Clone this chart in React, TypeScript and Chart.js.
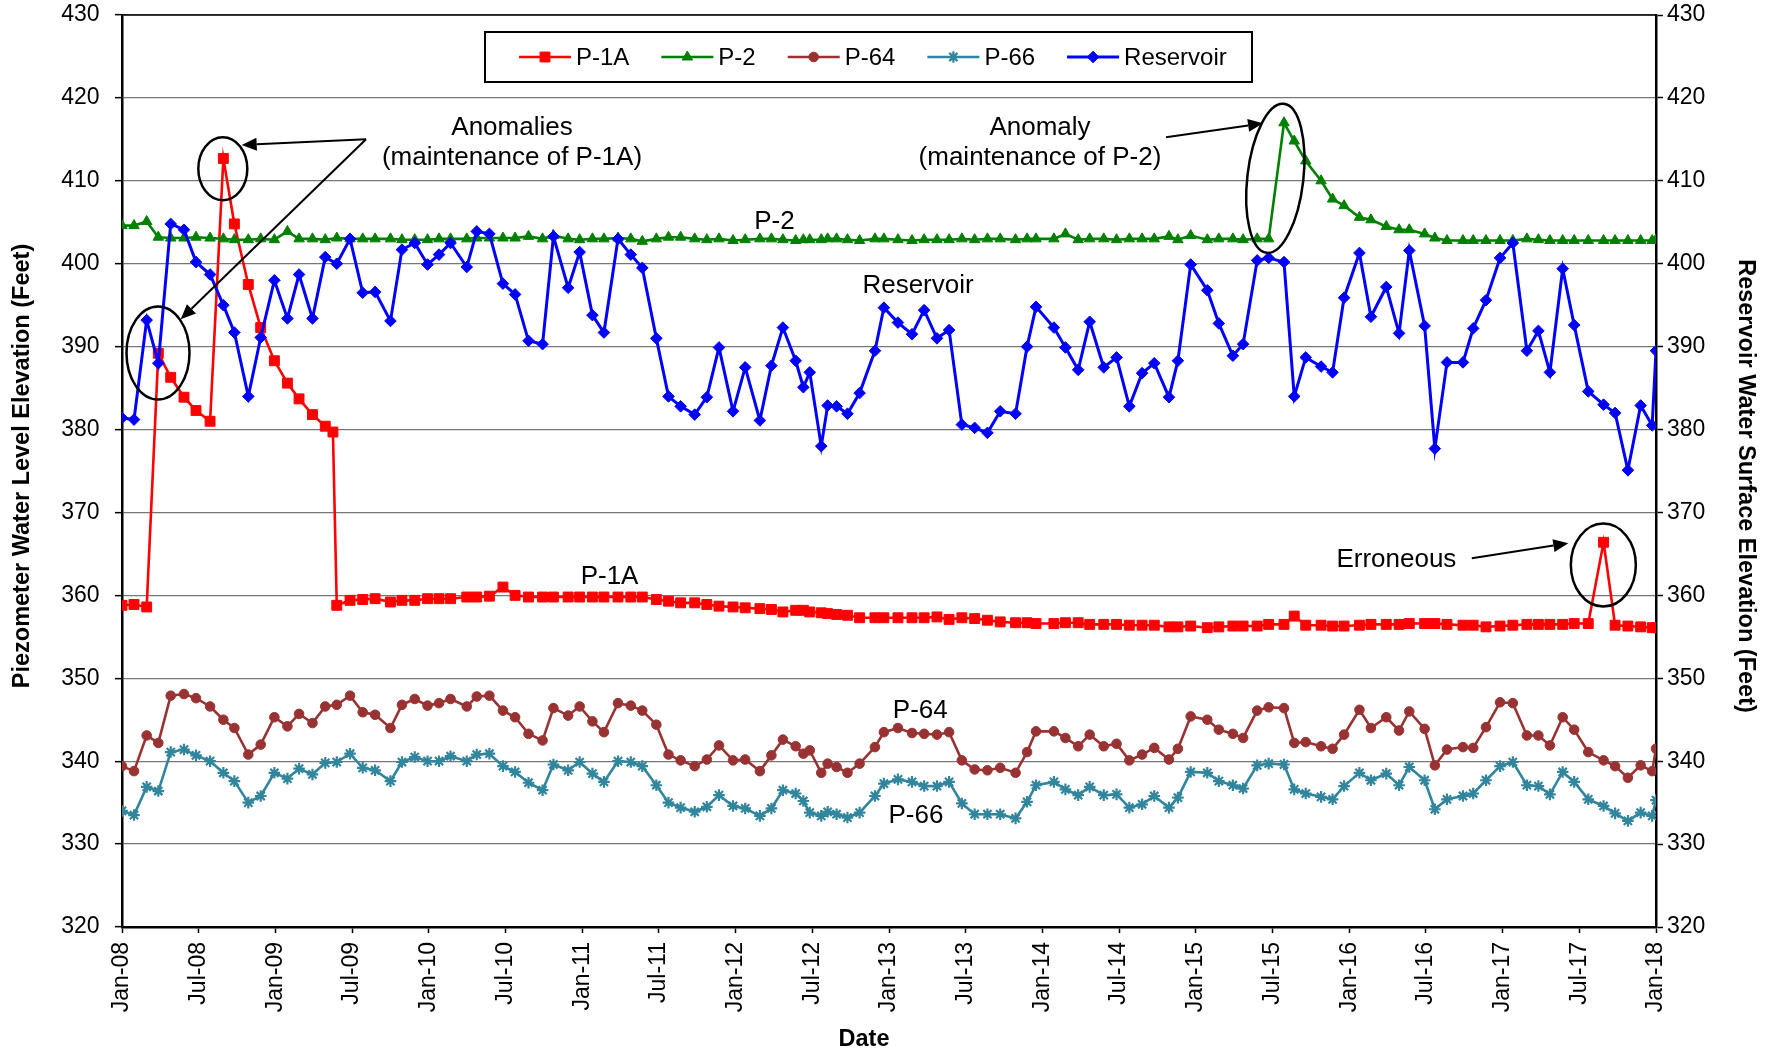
import React, { useEffect, useRef } from 'react';
import { Chart, registerables } from 'chart.js';
import { drawPoint } from 'chart.js/helpers';

Chart.register(...registerables);

// Reading dates, in months after January 2008
const months = [
  0, 0.94, 1.93, 2.84, 3.81, 4.85, 5.79, 6.89, 7.93, 8.79,
  9.88, 10.85, 11.92, 12.94, 13.85, 14.9, 15.9, 16.5, 16.8, 17.84,
  18.83, 19.8, 21.0, 21.9, 22.9, 23.9, 24.8, 25.7, 26.97, 27.75,
  28.74, 29.8, 30.75, 31.8, 32.9, 33.75, 34.9, 35.8, 36.8, 37.7,
  38.8, 39.8, 40.7, 41.8, 42.75, 43.7, 44.8, 45.75, 46.7, 47.8,
  48.75, 49.9, 50.8, 51.7, 52.7, 53.3, 53.8, 54.7, 55.2, 55.9,
  56.75, 57.7, 58.9, 59.6, 60.7, 61.8, 62.75, 63.75, 64.7, 65.7,
  66.7, 67.7, 68.7, 69.9, 70.8, 71.5, 72.9, 73.8, 74.8, 75.7,
  76.8, 77.8, 78.8, 79.8, 80.75, 81.9, 82.6, 83.6, 84.9, 85.8,
  86.9, 87.7, 88.8, 89.7, 90.9, 91.7, 92.6, 93.8, 94.7, 95.6,
  96.8, 97.7, 98.9, 99.9, 100.7, 101.9, 102.7, 103.65, 104.9, 105.7,
  106.7, 107.8, 108.8, 109.9, 110.8, 111.7, 112.7, 113.6, 114.7, 115.9,
  116.8, 117.8, 118.8, 119.7, 120,
];

// Piezometer P-1A water level (ft)
const p1aLevels = [
  358.8, 358.9, 358.6, 389.2, 386.3, 383.9, 382.3, 381.0, 412.7, 404.8,
  397.5, 392.3, 388.3, 385.6, 383.7, 381.8, 380.4, 379.7, 358.8, 359.4,
  359.5, 359.6, 359.2, 359.4, 359.4, 359.6, 359.6, 359.6, 359.8, 359.8,
  359.9, 361.0, 360.0, 359.8, 359.8, 359.8, 359.8, 359.8, 359.8, 359.8,
  359.8, 359.8, 359.8, 359.5, 359.3, 359.1, 359.1, 358.9, 358.7, 358.6,
  358.5, 358.4, 358.3, 358.0, 358.2, 358.2, 358.0, 357.9, 357.8, 357.7,
  357.6, 357.3, 357.3, 357.3, 357.3, 357.3, 357.3, 357.4, 357.1, 357.3,
  357.2, 357.0, 356.8, 356.7, 356.7, 356.6, 356.6, 356.7, 356.7, 356.5,
  356.5, 356.5, 356.4, 356.4, 356.4, 356.2, 356.2, 356.3, 356.1, 356.2,
  356.3, 356.3, 356.3, 356.5, 356.5, 357.5, 356.4, 356.4, 356.3, 356.3,
  356.4, 356.5, 356.5, 356.5, 356.6, 356.6, 356.6, 356.5, 356.4, 356.4,
  356.2, 356.3, 356.4, 356.5, 356.5, 356.5, 356.5, 356.6, 356.6, 366.4,
  356.4, 356.3, 356.2, 356.1, 356.1,
];

// Piezometer P-2 water level (ft)
const p2Levels = [
  404.6, 404.6, 405.1, 403.2, 403.1, 403.1, 403.2, 403.1, 403.0, 402.9,
  402.9, 403.0, 402.9, 403.9, 403.0, 403.0, 402.9, null, 403.1, 403.0,
  403.0, 403.0, 403.0, 402.9, 402.9, 402.9, 403.0, 403.0, 403.0, 403.1,
  403.1, 403.1, 403.1, 403.3, 403.0, 403.4, 403.0, 402.9, 403.0, 403.0,
  403.1, 403.0, 402.7, 403.0, 403.2, 403.2, 403.0, 402.9, 403.0, 402.8,
  402.9, 403.0, 403.0, 402.9, 402.8, 402.9, 402.9, 402.9, 403.0, 403.0,
  402.9, 402.8, 403.0, 403.0, 402.9, 402.8, 402.9, 402.9, 402.9, 403.0,
  402.9, 403.0, 403.0, 402.9, 403.0, 403.0, 403.0, 403.6, 402.9, 403.0,
  403.0, 402.9, 403.0, 403.0, 403.0, 403.3, 402.9, 403.4, 402.9, 403.0,
  403.0, 402.9, 403.0, 403.0, 417.0, 414.8, 412.4, 410.0, 407.8, 407.0,
  405.6, 405.3, 404.5, 404.1, 404.1, 403.6, 403.1, 402.8, 402.8, 402.8,
  402.8, 402.8, 402.8, 403.0, 402.9, 402.8, 402.8, 402.8, 402.8, 402.8,
  402.8, 402.8, 402.8, 402.8, 402.9,
];

// Piezometer P-64 water level (ft)
const p64Levels = [
  339.4, 338.8, 343.1, 342.2, 347.9, 348.1, 347.6, 346.6, 345.0, 344.0,
  340.8, 342.0, 345.3, 344.2, 345.7, 344.6, 346.6, null, 346.8, 347.9,
  345.9, 345.6, 344.0, 346.8, 347.5, 346.7, 347.0, 347.5, 346.6, 347.8,
  347.9, 346.1, 345.3, 343.3, 342.5, 346.4, 345.5, 346.6, 344.8, 343.5,
  347.0, 346.7, 346.1, 344.4, 340.8, 340.1, 339.4, 340.2, 341.9, 340.1,
  340.2, 338.8, 340.7, 342.6, 341.8, 340.9, 341.3, 338.6, 339.7, 339.3,
  338.6, 339.7, 341.7, 343.5, 344.0, 343.4, 343.3, 343.2, 343.5, 340.1,
  339.0, 338.9, 339.2, 338.6, 341.1, 343.6, 343.6, 342.8, 341.8, 343.2,
  341.8, 342.1, 340.1, 340.8, 341.6, 340.2, 341.5, 345.4, 345.0, 343.8,
  343.3, 342.8, 346.1, 346.5, 346.4, 342.2, 342.3, 341.8, 341.5, 343.2,
  346.2, 344.0, 345.3, 343.7, 346.0, 343.9, 339.5, 341.4, 341.7, 341.6,
  344.1, 347.1, 347.0, 343.1, 343.1, 341.9, 345.3, 343.8, 341.1, 340.1,
  339.4, 338.0, 339.5, 338.8, 341.5,
];

// Piezometer P-66 water level (ft)
const p66Levels = [
  334.0, 333.5, 336.9, 336.4, 341.1, 341.4, 340.7, 340.0, 338.6, 337.6,
  335.0, 335.8, 338.6, 337.9, 339.1, 338.4, 339.8, null, 339.9, 340.9,
  339.2, 338.9, 337.6, 339.9, 340.5, 340.0, 340.0, 340.6, 340.0, 340.8,
  340.9, 339.4, 338.7, 337.4, 336.5, 339.6, 338.9, 339.9, 338.5, 337.5,
  340.0, 339.9, 339.4, 337.1, 335.0, 334.4, 333.9, 334.5, 335.9, 334.6,
  334.3, 333.4, 334.3, 336.5, 336.1, 335.2, 333.8, 333.4, 333.9, 333.6,
  333.2, 333.8, 335.8, 337.3, 337.8, 337.5, 337.0, 337.0, 337.5, 334.9,
  333.6, 333.6, 333.6, 333.1, 335.1, 337.1, 337.5, 336.6, 335.9, 336.9,
  335.9, 336.0, 334.4, 334.8, 335.8, 334.4, 335.6, 338.7, 338.6, 337.6,
  337.1, 336.7, 339.5, 339.7, 339.6, 336.6, 336.1, 335.7, 335.4, 337.0,
  338.6, 337.7, 338.5, 337.1, 339.3, 337.7, 334.2, 335.4, 335.8, 336.1,
  337.7, 339.4, 339.9, 337.1, 337.0, 336.0, 338.7, 337.5, 335.4, 334.6,
  333.7, 332.8, 333.8, 333.4, 335.3,
];

// Reservoir water surface elevation (ft)
const reservoirLevels = [
  381.4, 381.2, 393.2, 388.0, 404.8, 404.1, 400.2, 398.7, 395.0, 391.7,
  384.0, 391.1, 398.0, 393.4, 398.7, 393.4, 400.8, null, 400.0, 403.0,
  396.5, 396.6, 393.1, 401.7, 402.5, 399.9, 401.1, 402.5, 399.6, 403.9,
  403.6, 397.6, 396.3, 390.7, 390.3, 403.3, 397.1, 401.4, 393.8, 391.7,
  403.0, 401.1, 399.5, 391.0, 384.0, 382.8, 381.8, 383.9, 389.9, 382.2,
  387.5, 381.1, 387.7, 392.3, 388.3, 385.1, 386.9, 378.0, 382.9, 382.8,
  381.9, 384.4, 389.5, 394.7, 392.9, 391.5, 394.4, 391.0, 392.0, 380.6,
  380.2, 379.6, 382.2, 381.9, 390.0, 394.8, 392.3, 389.9, 387.2, 393.0,
  387.5, 388.7, 382.8, 386.8, 388.0, 383.9, 388.3, 399.9, 396.8, 392.8,
  388.9, 390.3, 400.4, 400.7, 400.2, 384.0, 388.7, 387.6, 386.9, 395.9,
  401.3, 393.6, 397.2, 391.6, 401.6, 392.5, 377.7, 388.1, 388.1, 392.2,
  395.6, 400.7, 402.5, 389.5, 391.9, 386.9, 399.4, 392.6, 384.6, 383.0,
  382.0, 375.1, 382.9, 380.5, 389.5,
];

// Date axis labels, one every six months
const dateTickLabels = [
  'Jan-08', 'Jul-08', 'Jan-09', 'Jul-09', 'Jan-10', 'Jul-10', 'Jan-11',
  'Jul-11', 'Jan-12', 'Jul-12', 'Jan-13', 'Jul-13', 'Jan-14', 'Jul-14',
  'Jan-15', 'Jul-15', 'Jan-16', 'Jul-16', 'Jan-17', 'Jul-17', 'Jan-18',
];

const FONT = '"Liberation Sans", Arial, Helvetica, sans-serif';

type Series = {
  label: string;
  values: (number | null)[];
  color: string;
  pointStyle: string;
  radius: number;
  lineWidth: number;
  pointBorder: number;
  axis: string;
  order: number;
};

const series: Series[] = [
  { label: 'P-1A', values: p1aLevels, color: '#FF0000', pointStyle: 'rect', radius: 7, lineWidth: 2.6, pointBorder: 1, axis: 'y', order: 4 },
  { label: 'P-2', values: p2Levels, color: '#008000', pointStyle: 'triangle', radius: 6, lineWidth: 2.6, pointBorder: 1, axis: 'y', order: 3 },
  { label: 'P-64', values: p64Levels, color: '#993333', pointStyle: 'circle', radius: 4.8, lineWidth: 2.6, pointBorder: 1, axis: 'y', order: 2 },
  { label: 'P-66', values: p66Levels, color: '#31859C', pointStyle: 'star', radius: 5.8, lineWidth: 2.6, pointBorder: 2.2, axis: 'y', order: 1 },
  { label: 'Reservoir', values: reservoirLevels, color: '#0000FF', pointStyle: 'rectRot', radius: 5.8, lineWidth: 3, pointBorder: 1, axis: 'y2', order: 0 },
];

// Callout notes placed in data space (months, feet); text y is the baseline
const noteTexts = [
  { text: 'Anomalies', m: 30.51, v: 415.47 },
  { text: '(maintenance of P-1A)', m: 30.51, v: 411.91 },
  { text: 'Anomaly', m: 71.81, v: 415.47 },
  { text: '(maintenance of P-2)', m: 71.81, v: 411.91 },
  { text: 'Erroneous', m: 99.69, v: 363.46 },
  { text: 'P-2', m: 51.04, v: 404.19 },
  { text: 'Reservoir', m: 62.27, v: 396.43 },
  { text: 'P-1A', m: 38.14, v: 361.37 },
  { text: 'P-64', m: 62.45, v: 345.17 },
  { text: 'P-66', m: 62.11, v: 332.51 },
];

// Circled readings: centre in data space, radii in pixels
const noteRings = [
  { m: 7.886, v: 411.46, rx: 24.5, ry: 31.5, rot: 0 },
  { m: 2.816, v: 389.23, rx: 31.5, ry: 46.5, rot: 0 },
  { m: 90.22, v: 410.3, rx: 28, ry: 75, rot: 0.115 },
  { m: 115.88, v: 363.66, rx: 32.5, ry: 41.5, rot: 0 },
];

const noteArrows = [
  { from: [19.09, 415.01], to: [9.364, 414.32] },
  { from: [19.09, 415.01], to: [4.592, 393.3] },
  { from: [81.67, 415.25], to: [89.26, 416.94] },
  { from: [105.59, 364.47], to: [113.14, 366.28] },
];

function drawArrow(ctx: CanvasRenderingContext2D, x0: number, y0: number, x1: number, y1: number) {
  const ang = Math.atan2(y1 - y0, x1 - x0);
  const headLen = 15;
  const headHalf = 6.5;
  const bx = x1 - headLen * Math.cos(ang);
  const by = y1 - headLen * Math.sin(ang);
  ctx.beginPath();
  ctx.moveTo(x0, y0);
  ctx.lineTo(bx, by);
  ctx.stroke();
  ctx.beginPath();
  ctx.moveTo(x1, y1);
  ctx.lineTo(bx + headHalf * Math.sin(ang), by - headHalf * Math.cos(ang));
  ctx.lineTo(bx - headHalf * Math.sin(ang), by + headHalf * Math.cos(ang));
  ctx.closePath();
  ctx.fill();
}

const overlayPlugin = {
  id: 'notesAndFrame',
  afterDatasetsDraw(chart: any) {
    const { ctx, chartArea } = chart;
    const xs = chart.scales.x;
    const ys = chart.scales.y;
    ctx.save();

    // top edge of the plot frame
    ctx.strokeStyle = '#000';
    ctx.lineWidth = 1.5;
    ctx.beginPath();
    ctx.moveTo(chartArea.left, chartArea.top);
    ctx.lineTo(chartArea.right, chartArea.top);
    ctx.stroke();

    // rings and arrows
    ctx.strokeStyle = '#000';
    ctx.fillStyle = '#000';
    ctx.lineWidth = 2.5;
    for (const r of noteRings) {
      ctx.beginPath();
      ctx.ellipse(xs.getPixelForValue(r.m), ys.getPixelForValue(r.v), r.rx, r.ry, r.rot, 0, Math.PI * 2);
      ctx.stroke();
    }
    ctx.lineWidth = 2;
    for (const a of noteArrows) {
      drawArrow(
        ctx,
        xs.getPixelForValue(a.from[0]), ys.getPixelForValue(a.from[1]),
        xs.getPixelForValue(a.to[0]), ys.getPixelForValue(a.to[1]),
      );
    }

    // note texts
    ctx.font = `26px ${FONT}`;
    ctx.textAlign = 'center';
    ctx.textBaseline = 'alphabetic';
    for (const t of noteTexts) {
      ctx.fillText(t.text, xs.getPixelForValue(t.m), ys.getPixelForValue(t.v));
    }
    ctx.restore();
  },
  afterDraw(chart: any) {
    const { ctx } = chart;
    ctx.save();

    // axis titles
    ctx.fillStyle = '#000';
    ctx.font = `bold 23.5px ${FONT}`;
    ctx.textAlign = 'center';
    ctx.textBaseline = 'middle';
    ctx.fillText('Date', 864, 1040);
    ctx.save();
    ctx.translate(23, 466);
    ctx.rotate(-Math.PI / 2);
    ctx.fillText('Piezometer Water Level Elevation (Feet)', 0, 0);
    ctx.restore();
    ctx.save();
    ctx.translate(1745, 486);
    ctx.rotate(Math.PI / 2);
    ctx.fillText('Reservoir Water Surface Elevation (Feet)', 0, 0);
    ctx.restore();

    // legend box
    const boxL = 485, boxT = 32, boxR = 1252, boxB = 82;
    ctx.fillStyle = '#fff';
    ctx.fillRect(boxL, boxT, boxR - boxL, boxB - boxT);
    ctx.strokeStyle = '#000';
    ctx.lineWidth = 2;
    ctx.strokeRect(boxL, boxT, boxR - boxL, boxB - boxT);

    ctx.font = `24px ${FONT}`;
    ctx.textAlign = 'left';
    ctx.textBaseline = 'middle';
    const cy = 57;
    let x = 519;
    for (const s of series) {
      ctx.strokeStyle = s.color;
      ctx.fillStyle = s.color;
      ctx.lineWidth = s.lineWidth;
      ctx.beginPath();
      ctx.moveTo(x, cy);
      ctx.lineTo(x + 52, cy);
      ctx.stroke();
      ctx.lineWidth = s.pointBorder;
      drawPoint(ctx, { pointStyle: s.pointStyle as any, rotation: 0, radius: s.radius, borderWidth: s.pointBorder }, x + 26, cy);
      ctx.fillStyle = '#000';
      ctx.fillText(s.label, x + 57, cy + 1);
      x += 57 + ctx.measureText(s.label).width + 32;
    }
    ctx.restore();
  },
};

// fixed axis box sizes; tick-label overhang is not reserved
const fixWidth = (w: number) => (s: any) => {
  s.width = w;
  s.paddingTop = 0;
  s.paddingBottom = 0;
};

export default function App() {
  const canvasRef = useRef<HTMLCanvasElement>(null);

  useEffect(() => {
    const canvas = canvasRef.current;
    if (!canvas) return;
    Chart.defaults.color = '#000';
    Chart.defaults.font.family = FONT;

    const datasets = series.map((s) => ({
      label: s.label,
      data: months.flatMap((m, i) => (s.values[i] == null ? [] : [{ x: m, y: s.values[i] as number }])),
      borderColor: s.color,
      backgroundColor: s.color,
      borderWidth: s.lineWidth,
      pointStyle: s.pointStyle,
      pointRadius: s.radius,
      pointBackgroundColor: s.color,
      pointBorderColor: s.color,
      pointBorderWidth: s.pointBorder,
      tension: 0,
      order: s.order,
      xAxisID: 'x',
      yAxisID: s.axis,
    }));

    const tickFont = { family: FONT, size: 23 };

    const chart = new Chart(canvas, {
      type: 'line',
      data: { datasets: datasets as any },
      options: {
        animation: false,
        responsive: false,
        devicePixelRatio: 1,
        events: [],
        layout: { autoPadding: false, padding: { top: 15, left: 0, right: 0, bottom: 0 } },
        plugins: {
          legend: { display: false },
          tooltip: { enabled: false },
          title: { display: false },
        },
        scales: {
          x: {
            type: 'linear',
            position: 'bottom',
            min: 0,
            max: 120,
            afterFit: (s: any) => {
              s.height = 126;
              s.paddingLeft = 0;
              s.paddingRight = 0;
            },
            grid: { drawOnChartArea: false, drawTicks: true, tickLength: 6, tickColor: '#000', tickWidth: 1.5 },
            border: { display: true, color: '#000', width: 2.5 },
            ticks: {
              stepSize: 6,
              autoSkip: false,
              minRotation: 90,
              maxRotation: 90,
              padding: 9,
              color: '#000',
              font: tickFont,
              callback: (v: any) => dateTickLabels[Math.round(Number(v) / 6)] ?? '',
            },
          },
          y: {
            type: 'linear',
            position: 'left',
            min: 320,
            max: 430,
            afterFit: fixWidth(122),
            grid: { color: '#777', lineWidth: 1.3, tickColor: '#000', tickLength: 7, tickWidth: 1.5 },
            border: { display: true, color: '#000', width: 2.5 },
            ticks: { stepSize: 10, padding: 15.5, color: '#000', font: tickFont },
          },
          y2: {
            type: 'linear',
            position: 'right',
            min: 320,
            max: 430,
            afterFit: fixWidth(121),
            grid: { drawOnChartArea: false, tickColor: '#000', tickLength: 7, tickWidth: 1.5 },
            border: { display: true, color: '#000', width: 2.5 },
            ticks: { stepSize: 10, padding: 4, color: '#000', font: tickFont },
          },
        },
      } as any,
      plugins: [overlayPlugin],
    });

    return () => chart.destroy();
  }, []);

  return (
    <div style={{ position: 'fixed', left: 0, top: 0, width: 1777, height: 1053, background: '#fff' }}>
      <canvas ref={canvasRef} width={1777} height={1053} style={{ display: 'block', width: 1777, height: 1053 }} />
    </div>
  );
}
